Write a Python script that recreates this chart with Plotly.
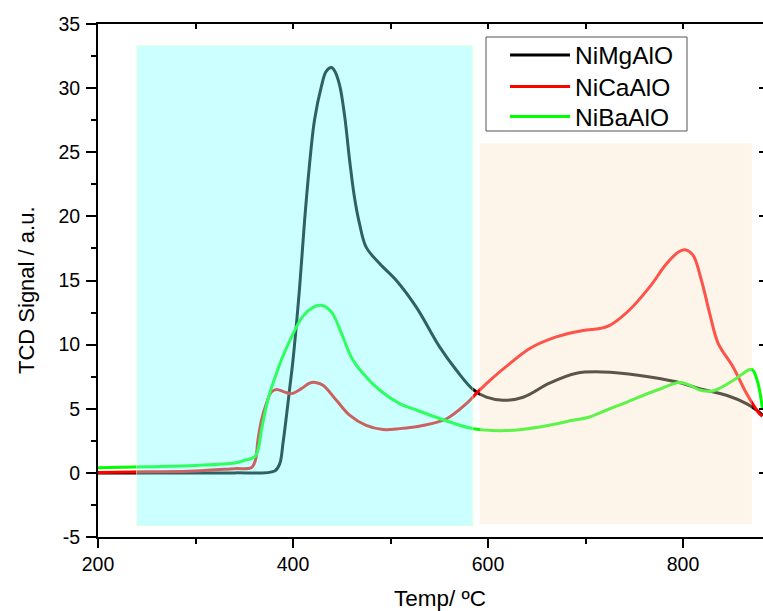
import plotly.graph_objects as go

# ---------------- data ----------------
mg_x = [200, 250, 300, 340, 381.2, 386.4, 389.7, 393.2, 396.6, 400, 406.8, 411.9, 417, 422, 429, 434, 439.4, 443,
        447.9, 453, 458, 463, 468, 475, 489, 506, 526.6, 550.5, 567.6, 584.6, 598.4, 615.4, 636, 663,
        690.7, 717.7, 755.6, 793, 817, 844.5, 865, 875.3, 881.4]
mg_y = [0.0, 0.0, 0.0, 0.0, 0.15, 0.72, 2.3, 4.4, 6.6, 8.8, 14.5, 19.7, 24.1, 27.5, 30.1, 31.3, 31.6, 31.3,
        30.2, 27.8, 24.4, 21.5, 19.5, 17.6, 16.3, 15.0, 12.9, 9.8, 8.0, 6.5, 5.9, 5.66, 5.9, 7.0,
        7.77, 7.87, 7.6, 7.1, 6.57, 6.05, 5.4, 4.9, 4.5]

ca_x = [200, 250, 300, 340, 357.3, 361.4, 364, 367.6, 372.7, 377.8, 383, 391.5, 398.4, 408.6, 417, 423, 430.8,
        444.5, 458, 475, 492.3, 509.4, 533, 557, 577.8, 588, 601.7, 622, 642.8, 670, 697.4, 714.6,
        724.8, 745, 765.8, 783, 794.9, 801.7, 810, 818.9, 827.4, 836, 851.3, 865, 876.9, 881.4]
ca_y = [0.02, 0.08, 0.15, 0.33, 0.41, 0.98, 2.54, 4.1, 5.4, 6.3, 6.5, 6.3, 6.18, 6.57, 7.0, 7.05, 6.83,
        5.66, 4.5, 3.7, 3.38, 3.45, 3.7, 4.2, 5.4, 6.2, 7.2, 8.5, 9.7, 10.6, 11.1, 11.25,
        11.5, 12.7, 14.5, 16.3, 17.2, 17.4, 17.0, 15.0, 12.4, 10.1, 8.26, 6.2, 4.75, 4.4]

ba_x = [200, 250, 300, 340, 350.5, 360.7, 364, 367.6, 371, 376, 383, 388, 396.6, 410, 420.5, 429, 439.4,
        449.6, 459.9, 471.8, 489, 509.4, 526.6, 550.5, 584.6, 618.9, 653, 687, 704.3, 724.8, 738.5,
        772.7, 796.6, 806.9, 818, 830.8, 851.3, 868.4, 871.8, 876.9, 881.4]
ba_y = [0.4, 0.48, 0.58, 0.77, 0.98, 1.24, 1.76, 3.3, 4.6, 6.2, 7.75, 8.8, 10.3, 12.2, 12.9, 13.07, 12.55,
        10.9, 9.0, 7.75, 6.44, 5.4, 4.9, 4.24, 3.45, 3.3, 3.58, 4.1, 4.36, 5.0, 5.4,
        6.44, 7.04, 6.83, 6.44, 6.39, 7.2, 8.06, 8.0, 6.97, 5.0]

series_names = ["NiMgAlO", "NiCaAlO", "NiBaAlO"]
series_colors = ["#000000", "#FF0000", "#00FF00"]

# shaded regions (x0, x1, y0, y1) in data units
low_region = [239.5, 584.5, -4.15, 33.35]
high_region = [591.5, 870.5, -4.0, 25.7]

x_range = [200, 882]
y_range = [-5, 35]
y_tickvals = [-5, 0, 5, 10, 15, 20, 25, 30, 35]
y_ticklabels = ["-5", "0", "5", "10", "15", "20", "25", "30", "35"]

x_title = "Temp/ ºC"
y_title = "TCD Signal / a.u."

FONT = "Liberation Sans, Arial, sans-serif"

W, H = 763, 611
L, R, T, B = 98, 0, 24, 74
plot_w, plot_h = W - L - R, H - T - B


def px_x(p):  # page x pixel -> paper x
    return (p - L) / plot_w


def px_y(p):  # page y pixel -> paper y
    return 1 - (p - T) / plot_h


fig = go.Figure()
legend_keys = ["legend", "legend2", "legend3"]
for name, xs, ys, col, lg in zip(series_names, [mg_x, ca_x, ba_x], [mg_y, ca_y, ba_y],
                                 series_colors, legend_keys):
    fig.add_trace(go.Scatter(x=xs, y=ys, mode="lines", name=name, legend=lg,
                             line=dict(color=col, width=3, shape="spline", smoothing=1.0)))

# helper trace so the mirrored tick axes exist
fig.add_trace(go.Scatter(x=[], y=[], xaxis="x2", yaxis="y2", showlegend=False, hoverinfo="skip"))

fig.add_shape(type="rect", xref="x", yref="y", x0=low_region[0], x1=low_region[1],
              y0=low_region[2], y1=low_region[3], layer="above",
              fillcolor="rgba(120,255,255,0.38)", line=dict(width=1, color="rgba(255,255,190,0.5)"))
fig.add_shape(type="rect", xref="x", yref="y", x0=high_region[0], x1=high_region[1],
              y0=high_region[2], y1=high_region[3], layer="above",
              fillcolor="rgba(250,226,198,0.37)", line=dict(width=0))
# legend frame
fig.add_shape(type="rect", xref="paper", yref="paper", x0=px_x(486), x1=px_x(687),
              y0=px_y(131), y1=px_y(37), layer="above",
              fillcolor="white", line=dict(width=1, color="#555555"))

# axis titles
fig.add_annotation(text=x_title, xref="paper", yref="paper", x=px_x(440), y=px_y(598),
                   xanchor="center", yanchor="middle", showarrow=False,
                   font=dict(family=FONT, size=22.5, color="black"))
fig.add_annotation(text=y_title, xref="paper", yref="paper", x=px_x(26), y=px_y(290),
                   xanchor="center", yanchor="middle", showarrow=False, textangle=-90,
                   font=dict(family=FONT, size=22, color="black"))

legend_common = dict(xanchor="left", yanchor="middle", bgcolor="rgba(0,0,0,0)", borderwidth=0,
                     font=dict(family=FONT, size=24.5, color="black"), itemwidth=60)
legend_centres = [55, 86.5, 116.5]

fig.update_layout(
    width=W, height=H,
    margin=dict(l=L, r=R, t=T, b=B),
    paper_bgcolor="white", plot_bgcolor="white",
    font=dict(family=FONT, size=19.5, color="black"),
    showlegend=True,
    legend=dict(x=px_x(505), y=px_y(legend_centres[0]), **legend_common),
    legend2=dict(x=px_x(505), y=px_y(legend_centres[1]), **legend_common),
    legend3=dict(x=px_x(505), y=px_y(legend_centres[2]), **legend_common),
    xaxis=dict(range=x_range, dtick=200, tick0=200, showgrid=False, zeroline=False, automargin=False,
               showline=True, linecolor="black", linewidth=2, mirror=True,
               ticks="outside", ticklen=9, tickwidth=2, tickcolor="black",
               minor=dict(dtick=100, tick0=200, ticks="outside", ticklen=5, tickwidth=2, tickcolor="black"),
               tickfont=dict(size=19.5)),
    yaxis=dict(range=y_range, tickmode="array", tickvals=y_tickvals, ticktext=y_ticklabels,
               showgrid=False, zeroline=False, automargin=False,
               showline=True, linecolor="black", linewidth=2, mirror=True,
               ticks="outside", ticklen=10, tickwidth=2, tickcolor="black",
               minor=dict(dtick=2.5, tick0=0, ticks="outside", ticklen=5, tickwidth=2, tickcolor="black"),
               tickfont=dict(size=19.5), ticklabelstandoff=2),
    xaxis2=dict(range=x_range, overlaying="x", side="top", anchor="y", dtick=100, tick0=200,
                ticks="inside", ticklen=5, tickwidth=2, tickcolor="black", automargin=False,
                showticklabels=False, showgrid=False, zeroline=False, showline=False),
    yaxis2=dict(range=y_range, overlaying="y", side="right", anchor="x", dtick=5, tick0=0,
                ticks="inside", ticklen=4, tickwidth=2, tickcolor="black", automargin=False,
                showticklabels=False, showgrid=False, zeroline=False, showline=False),
)

# remove the browser's default 8 px body margin so the figure fills the window
fig.write_html("out.html",
               config={"displayModeBar": False},
               post_script="document.body.style.margin='0';document.body.style.overflow='hidden';")
